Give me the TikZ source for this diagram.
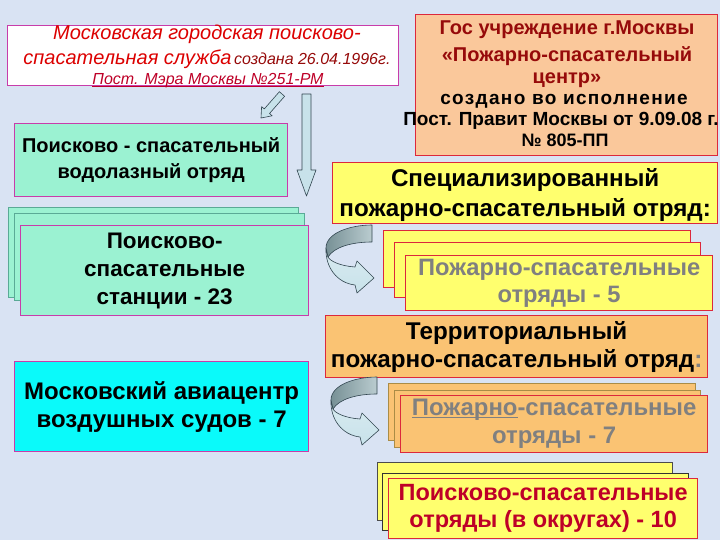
\documentclass[tikz,border=0pt]{standalone}
\usepackage{fontspec}
\setmainfont{Liberation Sans}
\newsavebox{\ulbox}
\newcommand{\myul}[1]{\sbox{\ulbox}{#1}\rlap{\rule[-2.2pt]{\wd\ulbox}{1.1pt}}\usebox{\ulbox}}
\definecolor{bgc}{RGB}{217,227,243}
\definecolor{magb}{RGB}{200,60,170}
\definecolor{redb}{RGB}{220,40,60}
\definecolor{mint}{RGB}{155,242,210}
\definecolor{cyanf}{RGB}{10,250,250}
\definecolor{yel}{RGB}{255,255,110}
\definecolor{peach}{RGB}{250,200,155}
\definecolor{orng}{RGB}{250,195,115}
\definecolor{tlred}{RGB}{220,0,0}
\definecolor{dkred}{RGB}{150,10,10}
\definecolor{crim}{RGB}{190,0,40}
\definecolor{grayt}{RGB}{128,128,128}
\definecolor{tealb}{RGB}{90,170,150}
\definecolor{oliveb}{RGB}{170,140,70}
\definecolor{arrf}{RGB}{200,226,234}
\definecolor{arrd}{RGB}{140,170,176}
\definecolor{arro}{RGB}{50,70,80}
\begin{document}
\begin{tikzpicture}[x=1pt,y=-1pt,
  box/.style={draw, anchor=north west, inner sep=0pt, align=center, line width=1.3pt},
  backbox/.style={draw, anchor=north west, inner sep=0pt, line width=0.8pt},
  blockarr/.style={fill=arrf, draw=arro, line width=0.6pt, line join=round},
  ]
\fill[bgc] (0,0) rectangle (720,540);
\useasboundingbox (0,0) rectangle (720,540);

% top-left white box
\node[box, draw=magb, fill=white, minimum width=391pt, minimum height=60pt] (tl) at (7,25) {};
\node[anchor=base, text=tlred, font=\itshape\fontsize{20}{22}\selectfont] (tl1) at (207,40) {Московская городская поисково-};
\node[anchor=base, font=\itshape] (tl2) at (207,65) {\textcolor{tlred}{\fontsize{20}{22}\selectfont спасательная служба} \textcolor{dkred}{\fontsize{16}{18}\selectfont создана 26.04.1996г.}};
\node[anchor=base, text=crim, font=\itshape\fontsize{16}{18}\selectfont] (tl3) at (208,85) {\myul{Пост. Мэра Москвы №251-РМ}};

% top-right peach box
\node[box, draw=redb, fill=peach, minimum width=302pt, minimum height=141pt] (tr) at (415,14) {};
\node[anchor=base, text=dkred, font=\bfseries\fontsize{20}{22}\selectfont] (tr1) at (567,35) {Гос учреждение г.Москвы};
\node[anchor=base, text=dkred, font=\bfseries\fontsize{20}{22}\selectfont] (tr2) at (567,62) {«Пожарно-спасательный};
\node[anchor=base, text=dkred, font=\bfseries\fontsize{20}{22}\selectfont] (tr3) at (567,84) {центр»};
\node[anchor=base, font=\bfseries\fontsize{19}{22}\selectfont\addfontfeatures{LetterSpace=7}] (tr4) at (564,105) {создано во исполнение};
\node[anchor=base, font=\bfseries\fontsize{19}{20}\selectfont] (tr5) at (561,126) {Пост. Правит Москвы от 9.09.08 г.};
\node[anchor=base, font=\bfseries\fontsize{18}{20}\selectfont] (tr6) at (565,147) {№ 805-ПП};

% arrows from top-left box
\draw[blockarr] (284.6,96.3) -- (269.5,113.5) -- (272.2,115.8) -- (261,118) -- (261.6,106.6) -- (264.3,108.9) -- (279.4,91.7) -- cycle;
\draw[blockarr] (302,94) -- (311,94) -- (311,170) -- (316,170) -- (306.5,196) -- (297,170) -- (302,170) -- cycle;

% mint boxes
\node[box, draw=magb, fill=mint, minimum width=273pt, minimum height=73pt, font=\bfseries\fontsize{20}{26}\selectfont] (vod) at (14,123) {Поисково - спасательный\\водолазный отряд};
\node[backbox, draw=tealb, fill=mint, minimum width=290pt, minimum height=90pt] (st1) at (8,207) {};
\node[backbox, draw=tealb, fill=mint, minimum width=290pt, minimum height=87pt] (st2) at (14,213) {};
\node[box, draw=magb, fill=mint, minimum width=288pt, minimum height=90pt, font=\bfseries\fontsize{22.5}{28}\selectfont] (st3) at (20,225) {Поисково-\\спасательные\\станции - 23};

% cyan box
\node[box, draw=magb, fill=cyanf, minimum width=294pt, minimum height=90pt, font=\bfseries\fontsize{24}{28}\selectfont] (avia) at (14,361) {Московский авиацентр\\воздушных судов - 7};

% specialized
\node[box, draw=redb, fill=yel, minimum width=385pt, minimum height=61pt, font=\bfseries\fontsize{24.2}{30}\selectfont] (spec) at (332,162) {\rule{0pt}{22pt}Специализированный\\пожарно-спасательный отряд:};
\node[backbox, draw=redb, fill=yel, minimum width=307pt, minimum height=57pt] (s51) at (383,230) {};
\node[backbox, draw=redb, fill=yel, minimum width=306pt, minimum height=55pt] (s52) at (394,242) {};
\node[box, draw=redb, fill=yel, minimum width=307pt, minimum height=55pt, text=grayt, font=\bfseries\fontsize{23.7}{27}\selectfont] (s53) at (405,255) {Пожарно-спасательные\\отряды - 5};

% territorial
\node[box, draw=redb, fill=orng, minimum width=382pt, minimum height=62pt, font=\bfseries\fontsize{24.2}{28}\selectfont] (terr) at (325,315) {Территориальный\\пожарно-спасательный отряд\textcolor{grayt}{:}};
\node[backbox, draw=oliveb, fill=orng, minimum width=307pt, minimum height=57pt] (t71) at (388,383) {};
\node[backbox, draw=oliveb, fill=orng, minimum width=306pt, minimum height=57pt] (t72) at (394,390) {};
\node[box, draw=redb, fill=orng, minimum width=307pt, minimum height=57pt, text=grayt, font=\bfseries\fontsize{23.9}{28}\selectfont] (t73) at (400,395) {\myul{Пожарно}-спасательные\\отряды - 7};

% districts
\node[backbox, draw=black!70, fill=yel, minimum width=295pt, minimum height=58pt] (d1) at (377,462) {};
\node[backbox, draw=black!80, fill=yel, minimum width=306pt, minimum height=57pt] (d2) at (382,473) {};
\node[box, draw=redb, fill=yel, minimum width=309pt, minimum height=60pt, text=crim, font=\bfseries\fontsize{23.5}{27}\selectfont] (d3) at (388,478) {Поисково-спасательные\\отряды (в округах) - 10};

% curved arrows
\foreach \sx/\sy/\nm in {372/225/ca1, 377/377/ca2}{
\begin{scope}[shift={(\sx,\sy)}]
\coordinate (\nm) at (0,0);
\draw[top color=arrf!70!white, bottom color=arrf, draw=arro, line width=0.6pt, line join=round]
  (-46,23) .. controls (-47,42) and (-35,58) .. (-17,60) -- (-15,68) -- (2,53) -- (-15,36) -- (-17,42) .. controls (-32,41) and (-42,36) .. (-44,32) -- cycle;
\draw[left color=arrd!85!black, right color=arrd!60!white, draw=arro, line width=0.6pt, line join=round]
  (0,0) .. controls (-22,0) and (-46,8) .. (-46,23) -- (-44,32) .. controls (-38,22) and (-20,17) .. (0,17) -- cycle;
\end{scope}
}
\end{tikzpicture}
\end{document}
